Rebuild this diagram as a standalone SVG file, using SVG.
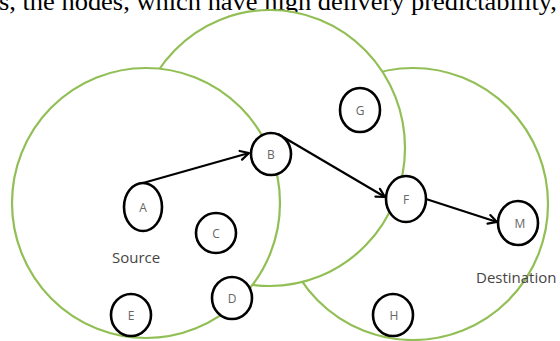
<svg xmlns="http://www.w3.org/2000/svg" width="560" height="341" viewBox="0 0 560 341">
  <defs>
    <marker id="arrow" viewBox="0 0 12 12" refX="10.5" refY="6" markerWidth="12" markerHeight="12" markerUnits="userSpaceOnUse" orient="auto">
      <polyline points="2,1.5 10.5,6 2,10.5" fill="none" stroke="#000" stroke-width="2.2" stroke-linecap="round" stroke-linejoin="round"/>
    </marker>
    <style>
      .zone { fill: #fff; stroke: #92BF55; stroke-width: 2.2; }
      .node ellipse { fill: #fff; stroke: #000; stroke-width: 2.6; }
      .node text { font-family: "Open Sans", "Liberation Sans", sans-serif; font-size: 12px; fill: #666; text-anchor: middle; }
      .label { font-family: "Open Sans", "Liberation Sans", sans-serif; font-size: 15px; fill: #444; }
      .edge { fill: none; stroke: #000; stroke-width: 2.2; marker-end: url(#arrow); }
      .caption { font-family: "Liberation Serif", "Times New Roman", serif; font-size: 26px; fill: #000; }
    </style>
  </defs>

  <rect width="560" height="341" fill="#fff"/>

  <!-- running text line above the figure -->
  <text class="caption" x="-1" y="9.5" textLength="558" lengthAdjust="spacingAndGlyphs">s, the nodes, which have high delivery predictability,</text>

  <!-- communication ranges, stacked: destination at the back, source in front -->
  <g id="zones">
    <ellipse class="zone" cx="413" cy="204" rx="135" ry="136"/>
    <ellipse class="zone" cx="270" cy="148" rx="135" ry="138"/>
    <ellipse class="zone" cx="146" cy="203" rx="134" ry="135"/>
  </g>

  <!-- forwarding path -->
  <g id="connectors">
    <line class="edge" x1="143" y1="183" x2="249" y2="153"/>
    <line class="edge" x1="278" y1="134" x2="385" y2="197"/>
    <line class="edge" x1="426" y1="199" x2="497" y2="222"/>
  </g>

  <g id="node-A" class="node"><ellipse cx="143" cy="207" rx="19" ry="24"/><text x="143" y="212">A</text></g>
  <g id="node-B" class="node"><ellipse cx="271" cy="154" rx="20" ry="21"/><text x="271" y="159">B</text></g>
  <g id="node-C" class="node"><ellipse cx="216" cy="233" rx="20" ry="20"/><text x="216" y="238">C</text></g>
  <g id="node-D" class="node"><ellipse cx="232" cy="298" rx="20" ry="21"/><text x="232" y="303">D</text></g>
  <g id="node-E" class="node"><ellipse cx="131" cy="315" rx="20" ry="21"/><text x="131" y="320">E</text></g>
  <g id="node-G" class="node"><ellipse cx="360" cy="110" rx="20" ry="22"/><text x="360" y="115">G</text></g>
  <g id="node-F" class="node"><ellipse cx="406" cy="199" rx="20" ry="23"/><text x="406" y="204">F</text></g>
  <g id="node-M" class="node"><ellipse cx="518" cy="223" rx="20" ry="22"/><text x="520" y="228">M</text></g>
  <g id="node-H" class="node"><ellipse cx="393" cy="315" rx="20" ry="21"/><text x="394" y="320">H</text></g>

  <text class="label" x="112" y="263">Source</text>
  <text class="label" x="476" y="283">Destination</text>
</svg>
